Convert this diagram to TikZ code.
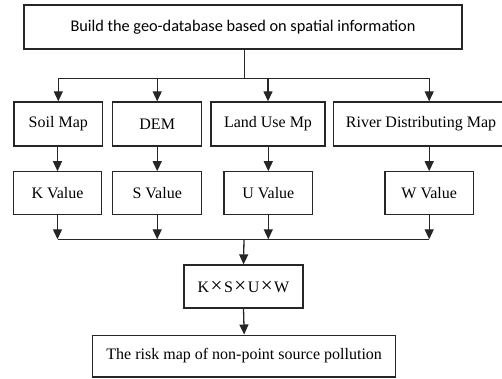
\documentclass[tikz,border=0pt]{standalone}
\usepackage{fontspec}
\setmainfont{Liberation Serif}
\newfontfamily\calib{Carlito}
\newcommand{\mytimes}{\kern1.5pt{\fontsize{21}{21}\selectfont ×}\kern1.5pt}
\usetikzlibrary{arrows.meta}
\tikzset{
  box/.style={draw=black!85, line width=1.3pt, minimum height=44pt, inner sep=0pt, align=center, font=\fontsize{16}{19}\selectfont},
  conn/.style={draw=black!85, line width=1.3pt},
  arr/.style={conn, -{Triangle[width=9pt,length=10pt]}}
}
\begin{document}
\begin{tikzpicture}[x=1pt,y=-1pt]
\useasboundingbox (0,0) rectangle (502,379);
\clip (0,0) rectangle (502,379);
\node[box, minimum width=438pt, font=\calib\fontsize{16.3}{19}\selectfont] (top) at (243,27) {Build the geo-database based on spatial information};
\node[box, minimum width=88.7pt] (soil) at (58.3,124) {Soil Map};
\node[box, minimum width=89pt] (dem) at (157.2,124) {DEM};
\node[box, minimum width=114pt] (land) at (268,124) {Land Use Mp};
\node[box, minimum width=175pt] (river) at (421,124) {River Distributing Map};
\node[box, minimum width=88.4pt, minimum height=42.3pt] (kv) at (57.5,193) {K Value};
\node[box, minimum width=89pt, minimum height=42.3pt] (sv) at (157.2,193) {S Value};
\node[box, minimum width=88.7pt, minimum height=42.3pt] (uv) at (268.3,193) {U Value};
\node[box, minimum width=88.3pt, minimum height=42.3pt] (wv) at (429.2,193) {W Value};
\node[box, minimum width=119pt, minimum height=43pt] (ksuw) at (243.5,286.5) {K\mytimes S\mytimes U\mytimes W};
\node[box, minimum width=303pt, minimum height=41.7pt] (final) at (244.2,356) {The risk map of non-point source pollution};
% top fan-out
\coordinate (b1) at (244.5,78.3);
\draw[conn] (top.south -| b1) -- (b1);
\draw[conn] (b1 -| soil.north) -- (b1 -| wv.north);
\draw[arr] (b1 -| soil.north) -- (soil.north);
\draw[arr] (b1 -| dem.north) -- (dem.north);
\draw[arr] (b1 -| land.north) -- (land.north);
\draw[arr] (b1 -| wv.north) -- (river.north -| wv.north);
% row 2 to row 3
\draw[arr] (kv.north |- soil.south) -- (kv.north);
\draw[arr] (sv.north |- dem.south) -- (sv.north);
\draw[arr] (uv.north |- land.south) -- (uv.north);
\draw[arr] (wv.north |- river.south) -- (wv.north);
% merge
\coordinate (b2) at (244,239.3);
\draw[conn] (b2 -| kv.south) -- (b2 -| wv.south);
\draw[arr] (kv.south) -- (b2 -| kv.south);
\draw[arr] (sv.south) -- (b2 -| sv.south);
\draw[arr] (uv.south) -- (b2 -| uv.south);
\draw[arr] (wv.south) -- (b2 -| wv.south);
\draw[arr] (b2) -- (ksuw.north);
\draw[arr] (ksuw.south) -- (final.north);
\end{tikzpicture}
\end{document}
